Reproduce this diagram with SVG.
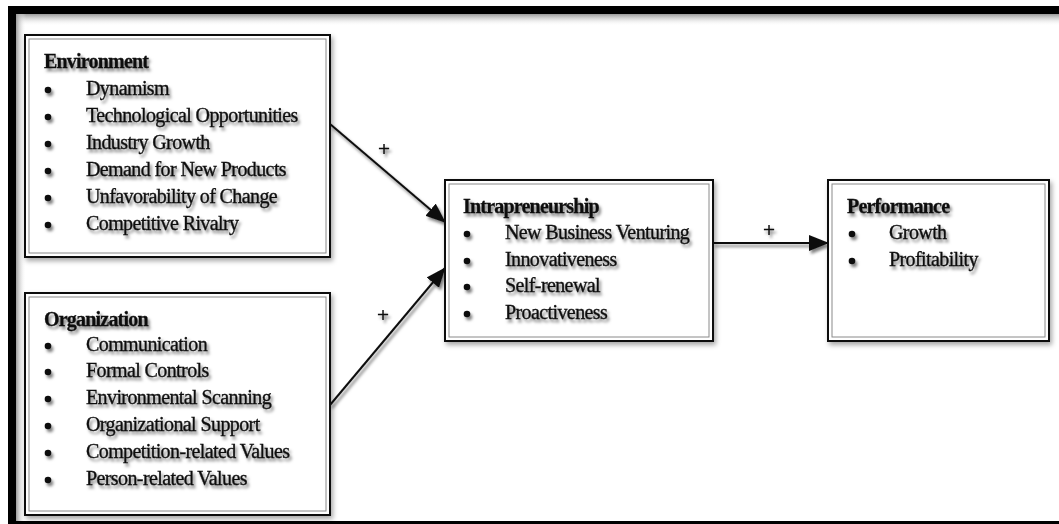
<svg xmlns="http://www.w3.org/2000/svg" width="1059" height="524" viewBox="0 0 1059 524">
  <defs>
    <style>
      .box { fill: #ffffff; stroke: #111111; stroke-width: 2; }
      .inner { fill: none; stroke: #8a8a8a; stroke-width: 1; }
      .title { font-family: "Liberation Serif", "Times New Roman", serif; font-size: 20px; font-weight: bold; letter-spacing: -0.8px; fill: #111111; stroke: #111111; stroke-width: 0.3px; }
      .item { font-family: "Liberation Serif", "Times New Roman", serif; font-size: 20px; letter-spacing: -0.6px; fill: #111111; stroke: #111111; stroke-width: 0.35px; }
      .plus { font-family: "Liberation Serif", "Times New Roman", serif; font-size: 22px; font-weight: bold; fill: #111111; }
      .edge { stroke: #111111; stroke-width: 2; fill: none; }
      .dot { fill: #111111; }
    </style>
    <filter id="soft" filterUnits="userSpaceOnUse" x="0" y="0" width="1059" height="524">
      <feDropShadow dx="2" dy="3" stdDeviation="1.8" flood-color="#000000" flood-opacity="0.5"/>
    </filter>
    <filter id="boxShadow" filterUnits="userSpaceOnUse" x="0" y="0" width="1059" height="524">
      <feDropShadow dx="2" dy="3" stdDeviation="2.5" flood-color="#000000" flood-opacity="0.35"/>
    </filter>
    <linearGradient id="topShade" x1="0" y1="0" x2="0" y2="1">
      <stop offset="0" stop-color="#9a9a9a"/>
      <stop offset="1" stop-color="#ffffff" stop-opacity="0"/>
    </linearGradient>
    <linearGradient id="leftShade" x1="0" y1="0" x2="1" y2="0">
      <stop offset="0" stop-color="#9a9a9a"/>
      <stop offset="1" stop-color="#ffffff" stop-opacity="0"/>
    </linearGradient>
    <marker id="arrow" viewBox="0 0 20 16" refX="19" refY="8" markerWidth="20" markerHeight="16" markerUnits="userSpaceOnUse" orient="auto">
      <path d="M0,0 L20,8 L0,16 Z" fill="#111111"/>
    </marker>
  </defs>

  <rect width="1059" height="524" fill="#ffffff"/>

  <!-- frame -->
  <g id="frame">
    <rect x="16" y="14" width="1043" height="12" fill="url(#topShade)"/>
    <rect x="16" y="14" width="10" height="508" fill="url(#leftShade)"/>
    <rect x="8" y="6" width="1051" height="8" fill="#000000"/>
    <rect x="8" y="6" width="8" height="518" fill="#000000"/>
    <rect x="8" y="521" width="1051" height="3" fill="#000000"/>
  </g>

  <!-- connectors -->
  <g id="connectors" filter="url(#soft)">
    <line class="edge" x1="330" y1="124" x2="445" y2="222" marker-end="url(#arrow)"/>
    <line class="edge" x1="330" y1="405" x2="445" y2="268" marker-end="url(#arrow)"/>
    <line class="edge" x1="713" y1="243" x2="828" y2="243" marker-end="url(#arrow)"/>
    <text class="plus" x="384" y="156" text-anchor="middle">+</text>
    <text class="plus" x="383" y="322" text-anchor="middle">+</text>
    <text class="plus" x="769" y="237" text-anchor="middle">+</text>
  </g>

  <!-- Environment -->
  <g id="environment">
    <rect class="box" x="25" y="35" width="305" height="222" filter="url(#boxShadow)"/>
    <rect class="inner" x="29" y="39" width="297" height="214"/>
    <g filter="url(#soft)">
      <text class="title" x="44" y="68">Environment</text>
      <circle class="dot" cx="48" cy="90" r="3.3"/>
      <circle class="dot" cx="48" cy="117" r="3.3"/>
      <circle class="dot" cx="48" cy="144" r="3.3"/>
      <circle class="dot" cx="48" cy="171" r="3.3"/>
      <circle class="dot" cx="48" cy="198" r="3.3"/>
      <circle class="dot" cx="48" cy="225" r="3.3"/>
      <text class="item" x="86" y="95">Dynamism</text>
      <text class="item" x="86" y="122">Technological Opportunities</text>
      <text class="item" x="86" y="149">Industry Growth</text>
      <text class="item" x="86" y="176">Demand for New Products</text>
      <text class="item" x="86" y="203">Unfavorability of Change</text>
      <text class="item" x="86" y="230">Competitive Rivalry</text>
    </g>
  </g>

  <!-- Organization -->
  <g id="organization">
    <rect class="box" x="25" y="293" width="305" height="222" filter="url(#boxShadow)"/>
    <rect class="inner" x="29" y="297" width="297" height="214"/>
    <g filter="url(#soft)">
      <text class="title" x="44" y="326">Organization</text>
      <circle class="dot" cx="48" cy="346" r="3.3"/>
      <circle class="dot" cx="48" cy="372" r="3.3"/>
      <circle class="dot" cx="48" cy="399" r="3.3"/>
      <circle class="dot" cx="48" cy="426" r="3.3"/>
      <circle class="dot" cx="48" cy="453" r="3.3"/>
      <circle class="dot" cx="48" cy="480" r="3.3"/>
      <text class="item" x="86" y="351">Communication</text>
      <text class="item" x="86" y="377">Formal Controls</text>
      <text class="item" x="86" y="404">Environmental Scanning</text>
      <text class="item" x="86" y="431">Organizational Support</text>
      <text class="item" x="86" y="458">Competition-related Values</text>
      <text class="item" x="86" y="485">Person-related Values</text>
    </g>
  </g>

  <!-- Intrapreneurship -->
  <g id="intrapreneurship">
    <rect class="box" x="445" y="180" width="268" height="161" filter="url(#boxShadow)"/>
    <rect class="inner" x="449" y="184" width="260" height="153"/>
    <g filter="url(#soft)">
      <text class="title" x="463" y="213">Intrapreneurship</text>
      <circle class="dot" cx="467" cy="234" r="3.3"/>
      <circle class="dot" cx="467" cy="261" r="3.3"/>
      <circle class="dot" cx="467" cy="287" r="3.3"/>
      <circle class="dot" cx="467" cy="314" r="3.3"/>
      <text class="item" x="505" y="239">New Business Venturing</text>
      <text class="item" x="505" y="266">Innovativeness</text>
      <text class="item" x="505" y="292">Self-renewal</text>
      <text class="item" x="505" y="319">Proactiveness</text>
    </g>
  </g>

  <!-- Performance -->
  <g id="performance">
    <rect class="box" x="828" y="180" width="221" height="161" filter="url(#boxShadow)"/>
    <rect class="inner" x="832" y="184" width="213" height="153"/>
    <g filter="url(#soft)">
      <text class="title" x="847" y="213">Performance</text>
      <circle class="dot" cx="852" cy="234" r="3.3"/>
      <circle class="dot" cx="852" cy="261" r="3.3"/>
      <text class="item" x="889" y="239">Growth</text>
      <text class="item" x="889" y="266">Profitability</text>
    </g>
  </g>
</svg>
